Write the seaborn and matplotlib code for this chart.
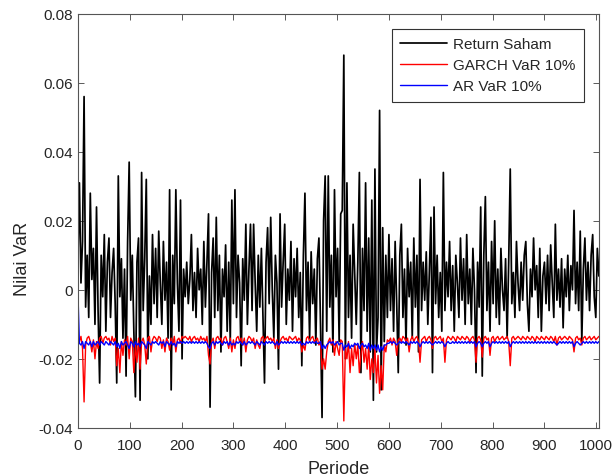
import numpy as np
import pandas as pd
import seaborn as sns
import matplotlib.pyplot as plt

# values every 3 periods, in units of 0.001
return_milli = [
    8, 31, 2, 14, 56, -5, 10, -8, 28, 3,
    12, -10, 24, -6, -27, 10, -2, 16, -12, 8,
    15, -8, 5, 12, -4, -27, 33, -2, 9, -14,
    6, -25, 14, 37, -3, 10, -12, -31, 8, 15,
    -32, 34, -6, 9, 32, -20, 4, -10, 16, -4,
    12, -8, 17, 2, -10, 14, -3, 8, -14, 29,
    -29, 10, -4, 29, 2, -12, 26, -20, 6, -2,
    8, -4, 3, 16, -6, 5, -8, 12, 0, 6,
    -10, 14, -5, 8, 22, -34, 5, 15, -8, 21,
    -6, 10, -18, 6, -2, 13, -12, 8, -15, 26,
    -4, 29, -8, 10, 2, -22, 9, -3, 19, -10,
    6, 19, -6, 19, 2, -12, 10, -5, 12, -8,
    -27, 8, 18, -4, 21, 0, -14, 10, 2, -23,
    22, -5, 8, 19, -10, 6, -3, 14, -12, 9,
    -2, 12, -8, 5, -22, 10, 28, -6, 8, -14,
    11, -4, 6, -16, 9, 15, -10, -37, 20, 33,
    -12, 33, -5, 10, -18, 29, -2, 12, -15, 22,
    23, 68, -20, 31, -8, 10, -14, 19, 4, -10,
    8, 34, -24, 12, -6, 31, -12, 15, -18, 26,
    -32, 35, -18, -8, 52, -29, 18, -15, 10, -8,
    16, -6, 9, -12, 14, -4, -24, 10, 19, -8,
    6, -16, 12, -2, 8, -14, 15, -5, 10, -18,
    32, -6, 8, -3, 11, -10, 6, 21, -24, 24,
    -4, 10, -8, 5, -12, 34, -6, 8, -2, 14,
    -6, 7, -12, 10, 2, -8, 15, -3, 9, -10,
    16, -4, 6, -10, 12, 0, -24, 8, -5, 24,
    -25, 10, 27, -6, 8, -12, 14, -4, 20, -8,
    6, -10, 12, 0, -6, 9, -14, 8, 35, -4,
    5, -8, 14, 2, -6, 8, -3, 10, 14, -4,
    -12, 6, -2, 15, 0, 7, -8, 12, -12, 4,
    8, -4, 10, -6, 13, 2, -8, 19, -3, 6,
    -5, 9, -11, 6, -2, 10, -6, 7, 0, 23,
    -4, 8, -6, 17, -15, 6, 15, -3, 8, -6,
    10, 16, -2, -8, 12, 4,
]

garch_milli = [
    -14, -15, -13.5, -17, -32.5, -16, -14, -13.5, -15, -18,
    -14.5, -20, -15, -17, -14, -13.5, -15.5, -14, -13.5, -14.5,
    -14, -16, -13.5, -15, -14, -22, -17, -24, -15, -19,
    -14.5, -16, -13.5, -20, -14, -15, -24, -16, -21, -14,
    -23, -15, -14, -16, -21.5, -14, -13.5, -18, -14.5, -13.5,
    -14, -15, -13.5, -14, -17, -14.5, -18, -14, -15, -17.5,
    -14, -16, -13.5, -18, -14.5, -14, -15.5, -13.5, -14, -13.5,
    -14, -14.5, -13.5, -15, -14, -13.5, -14.5, -14, -15, -13.5,
    -14.5, -14, -15, -13.5, -19, -21.5, -15, -14, -17, -14,
    -13.5, -14.5, -14, -16, -14, -13.5, -15, -17, -14, -18,
    -14.5, -17, -14, -13.5, -15, -14, -16, -14, -18, -14.5,
    -13.5, -14, -15, -14, -17, -14.5, -16, -17, -14, -13.5,
    -15, -14, -13.5, -14.5, -14, -15, -14, -17, -14.5, -17,
    -15, -14, -13.5, -14.5, -14, -15, -13.5, -14, -14.5, -14,
    -13.5, -15, -14, -14.5, -18, -16, -17.5, -14, -13.5, -15,
    -14, -13.5, -15, -14.5, -14, -16, -15, -23, -20, -23,
    -18, -15, -14, -16, -14.5, -19, -15, -17, -19, -14.5,
    -15, -38, -17, -20, -15, -24, -17, -22, -15.5, -20,
    -16, -24, -19, -15, -21, -17, -23, -16, -26, -20,
    -24, -17, -27, -19, -30, -22, -29, -16, -18, -14.5,
    -15, -14, -16, -14, -15, -19, -14.5, -14, -15, -13.5,
    -14, -15, -14, -18, -14.5, -13.5, -15, -14, -13.5, -15,
    -21, -14.5, -14, -13.5, -15, -14, -13.5, -14.5, -17, -14,
    -13.5, -14.5, -14, -13.5, -15, -14, -21, -14.5, -13.5, -14,
    -14.5, -13.5, -14, -15, -13.5, -14, -14.5, -13.5, -14, -14.5,
    -13.5, -14, -15, -14, -13.5, -14.5, -21, -14, -13.5, -14.5,
    -19.5, -14, -13.5, -14.5, -14, -19, -14, -13.5, -15, -14,
    -13.5, -14.5, -14, -13.5, -14.5, -14, -13.5, -15, -22, -14,
    -13.5, -14.5, -14, -13.5, -14, -14.5, -13.5, -14, -14.5, -13.5,
    -14, -14.5, -13.5, -14, -15, -13.5, -14, -14.5, -13.5, -14,
    -14.5, -13.5, -14, -14.5, -13.5, -14, -15, -13.5, -16, -14,
    -13.5, -14.5, -14, -13.5, -14, -14.5, -13.5, -14, -14.5, -18,
    -14, -13.5, -14.5, -14, -16, -14, -13.5, -14.5, -14, -13.5,
    -14.5, -14, -13.5, -14.5, -14, -13.5,
]

ar_milli = [
    0, -15.5, -16, -15, -17, -15, -15.5, -16, -15, -16.5,
    -15, -16, -15.5, -15, -16, -15, -15.5, -16, -15, -15.5,
    -16, -15, -15.5, -16, -15, -16.5, -15.5, -17, -15, -16,
    -15.5, -15, -16, -17, -15, -15.5, -16.5, -15, -16, -15.5,
    -16.5, -15, -15.5, -16, -17, -15, -15.5, -16, -15, -15.5,
    -15, -15.5, -16, -15, -15.5, -15, -16.5, -15, -15.5, -16,
    -15, -16, -15.5, -16.5, -15, -15.5, -15, -15.5, -15, -15.5,
    -15, -15.5, -15, -15.5, -15, -15.5, -15, -15.5, -15, -15.5,
    -15, -15.5, -15, -15.5, -16.5, -17, -15.5, -15, -16, -15,
    -15.5, -15, -15.5, -16, -15, -15.5, -15, -16, -15, -16,
    -15.5, -16, -15, -15.5, -15, -15.5, -16, -15, -16, -15.5,
    -15, -15.5, -15, -15.5, -16, -15, -15.5, -16, -15, -15.5,
    -16, -15, -15.5, -15, -15.5, -15, -15.5, -16, -15, -16,
    -15.5, -15, -15.5, -15, -15.5, -15, -15.5, -15, -15.5, -15,
    -15.5, -15, -15.5, -15, -16, -15.5, -16, -15, -15.5, -15,
    -15.5, -15, -15.5, -15, -15.5, -15.5, -15, -17, -16, -17,
    -16, -15.5, -15, -15.5, -15, -16, -15.5, -15, -16, -15.5,
    -15.5, -17.5, -16, -16.5, -15.5, -17, -16, -16.5, -15.5, -16,
    -15.5, -17, -16, -15.5, -16.5, -16, -17, -15.5, -17.5, -16,
    -17, -16, -17.5, -16, -18, -16.5, -17.5, -16, -16, -15.5,
    -15.5, -15, -15.5, -15, -15.5, -16, -15.5, -15, -15.5, -15,
    -15.5, -15, -15.5, -16, -15, -15.5, -15, -15.5, -15, -15.5,
    -16.5, -15.5, -15, -15.5, -15, -15.5, -15, -15.5, -16, -15.5,
    -15, -15.5, -15, -15.5, -15, -15.5, -16.5, -15.5, -15, -15.5,
    -15.5, -15, -15.5, -15, -15.5, -15, -15.5, -15, -15.5, -15,
    -15.5, -15, -15.5, -15, -15.5, -15, -16.5, -15.5, -15, -15.5,
    -16.5, -15.5, -15, -15.5, -15, -16.5, -15.5, -15, -15.5, -15,
    -15.5, -15, -15.5, -15, -15.5, -15, -15.5, -15, -16.5, -15.5,
    -15, -15.5, -15, -15.5, -15, -15.5, -15, -15.5, -15, -15.5,
    -15, -15.5, -15, -15.5, -15, -15.5, -15, -15.5, -15, -15.5,
    -15, -15.5, -15, -15.5, -15, -15.5, -15, -15.5, -16, -15.5,
    -15, -15.5, -15, -15.5, -15, -15.5, -15, -15.5, -15, -16.5,
    -15.5, -15, -15.5, -16, -15.5, -15, -15.5, -15, -15.5, -15,
    -15.5, -15, -15.5, -15, -15.5, -15,
]

x_ticks = [0, 100, 200, 300, 400, 500, 600, 700, 800, 900, 1000]
y_ticks = [-0.04, -0.02, 0, 0.02, 0.04, 0.06, 0.08]
y_tick_labels = ['-0.04', '-0.02', '0', '0.02', '0.04', '0.06', '0.08']

df = pd.DataFrame({
    'Periode': np.arange(len(return_milli)) * 3,
    'Return Saham': np.array(return_milli) / 1000,
    'GARCH VaR 10%': np.array(garch_milli) / 1000,
    'AR VaR 10%': np.array(ar_milli) / 1000,
})

sns.set_style('ticks')
plt.rcParams['font.family'] = ['Liberation Sans', 'DejaVu Sans']

fig, ax = plt.subplots(figsize=(6.13, 4.77), dpi=100)
fig.subplots_adjust(left=0.127, right=0.977, top=0.969, bottom=0.101)

sns.lineplot(data=df, x='Periode', y='Return Saham', color='black', lw=1.25,
             label='Return Saham', ax=ax)
sns.lineplot(data=df, x='Periode', y='GARCH VaR 10%', color='red', lw=1.0,
             label='GARCH VaR 10%', ax=ax)
sns.lineplot(data=df, x='Periode', y='AR VaR 10%', color='blue', lw=1.0,
             label='AR VaR 10%', ax=ax)

ax.set_xlim(0, 1005)
ax.set_ylim(-0.04, 0.08)
ax.set_xticks(x_ticks)
ax.set_yticks(y_ticks)
ax.set_yticklabels(y_tick_labels)
ax.set_xlabel('Periode', fontsize=13, color='#262626', labelpad=6)
ax.set_ylabel('Nilai VaR', fontsize=13, color='#262626')
ax.yaxis.set_label_coords(-0.09, 0.41)

ax.tick_params(direction='in', top=True, right=True, length=4, width=0.6,
               colors='#404040', labelsize=11, labelcolor='#262626')
ax.tick_params(axis='x', pad=7)
for sp in ax.spines.values():
    sp.set_color('#555555')
    sp.set_linewidth(0.8)

leg = ax.legend(loc='upper right', fontsize=11, fancybox=False, framealpha=1,
                edgecolor='#333333', handlelength=3.1, handletextpad=0.35,
                labelspacing=0.45, borderpad=0.55, borderaxespad=1.0)
leg.get_frame().set_linewidth(0.8)

fig.savefig('out.png', dpi=100)
